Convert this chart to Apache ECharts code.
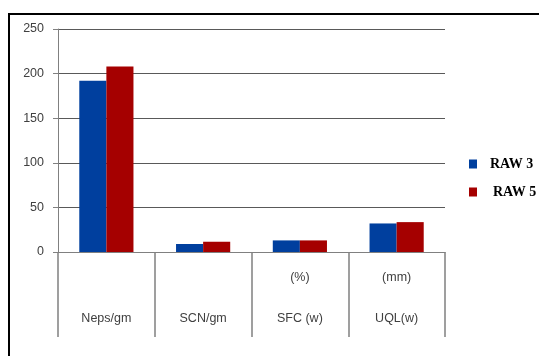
<!DOCTYPE html>
<html>
<head>
<meta charset="utf-8">
<script src="https://cdn.jsdelivr.net/npm/echarts@6/dist/echarts.min.js"></script>
<style>
  html, body { margin: 0; padding: 0; background: #fff; }
  #chart { width: 539px; height: 356px; }
</style>
</head>
<body>
<div id="chart"></div>
<script>
// chart values
var categories = ['\n\nNeps/gm', '\n\nSCN/gm', '(%)\n\nSFC (w)', '(mm)\n\nUQL(w)'];
var raw3 = [192, 9, 13, 32];
var raw5 = [208, 11.5, 13, 33.5];
var seriesNames = ['RAW 3', 'RAW 5'];

var myChart = echarts.init(document.getElementById('chart'));

var legendText = {
    fontFamily: 'Liberation Serif',
    fontWeight: 'bold',
    fontSize: 14,
    color: '#000'
};

var option = {
    animation: false,
    graphic: [{
        type: 'rect',
        shape: {x: 9, y: 14, width: 700, height: 500},
        style: {fill: 'none', stroke: '#000', lineWidth: 2}
    }],
    legend: [{
        data: [seriesNames[0]],
        left: 469, top: 157,
        padding: 0,
        itemWidth: 8, itemHeight: 9,
        icon: 'rect',
        textStyle: Object.assign({padding: [0, 0, 0, 8]}, legendText)
    }, {
        data: [seriesNames[1]],
        left: 469, top: 185,
        padding: 0,
        itemWidth: 8, itemHeight: 9,
        icon: 'rect',
        textStyle: Object.assign({padding: [0, 0, 0, 11]}, legendText)
    }],
    grid: {left: 58, right: 94, top: 29, bottom: 104},
    xAxis: {
        type: 'category',
        data: categories,
        axisLine: {lineStyle: {color: '#808080', width: 1}},
        axisTick: {
            show: true, length: 85, interval: 0,
            lineStyle: {color: '#808080', width: 1.5}
        },
        axisLabel: {
            interval: 0,
            margin: 15,
            lineHeight: 20.5,
            fontFamily: 'Liberation Sans',
            fontSize: 12.5,
            color: '#404040'
        }
    },
    yAxis: {
        type: 'value',
        min: 0, max: 250, interval: 50,
        axisLine: {show: true, lineStyle: {color: '#808080'}},
        axisTick: {show: true, length: 5, lineStyle: {color: '#808080'}},
        axisLabel: {
            margin: 14,
            fontFamily: 'Liberation Sans',
            fontSize: 12.5,
            color: '#404040'
        },
        splitLine: {lineStyle: {color: '#595959', width: 1}}
    },
    series: [{
        name: seriesNames[0],
        type: 'bar',
        data: raw3,
        barGap: '0%',
        barCategoryGap: '44%',
        itemStyle: {color: '#003f9e'}
    }, {
        name: seriesNames[1],
        type: 'bar',
        data: raw5,
        itemStyle: {color: '#a50000'}
    }]
};

myChart.setOption(option);
</script>
</body>
</html>
